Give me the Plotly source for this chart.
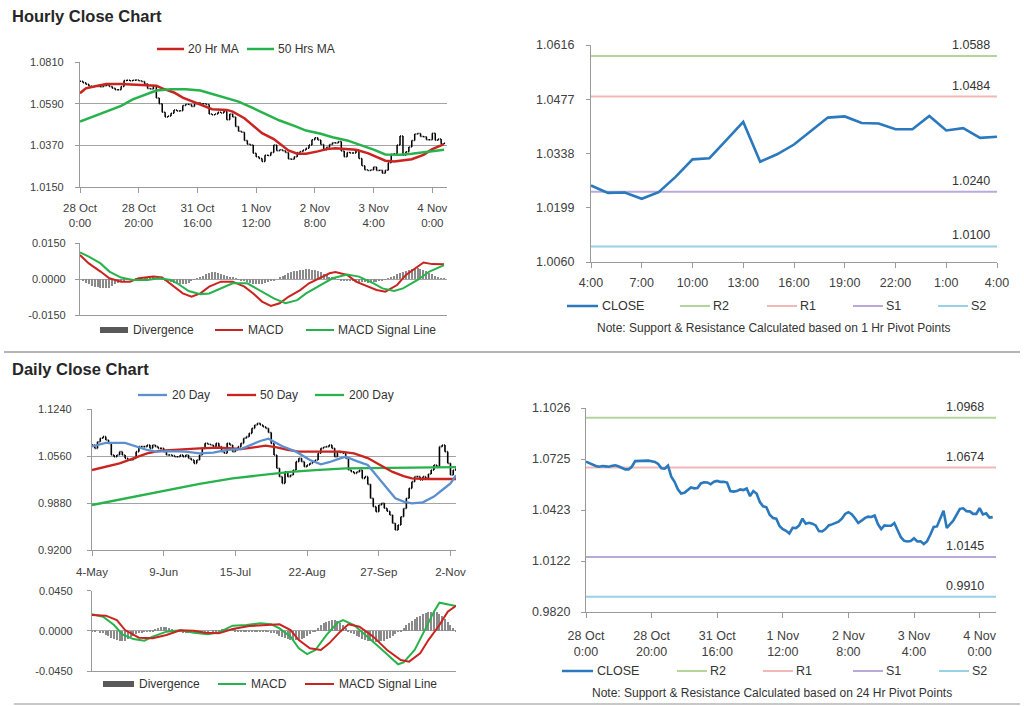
import plotly.graph_objects as go

W, H = 1024, 706
FONT = "Liberation Sans, Arial, sans-serif"

# ---------------- data ----------------
hourly_close = [
    1.0709, 1.0700, 1.0692, 1.0683, 1.0679, 1.0683, 1.0681, 1.0679, 1.0684, 1.0687,
    1.0680, 1.0672, 1.0663, 1.0663, 1.0680, 1.0712, 1.0713, 1.0711, 1.0713, 1.0715,
    1.0711, 1.0707, 1.0695, 1.0670, 1.0667, 1.0685, 1.0620, 1.0590, 1.0545, 1.0520,
    1.0525, 1.0540, 1.0556, 1.0551, 1.0553, 1.0580, 1.0587, 1.0586, 1.0575, 1.0590,
    1.0595, 1.0589, 1.0590, 1.0585, 1.0535, 1.0532, 1.0535, 1.0545, 1.0541, 1.0550,
    1.0505, 1.0535, 1.0520, 1.0470, 1.0445, 1.0439, 1.0395, 1.0376, 1.0372, 1.0328,
    1.0310, 1.0300, 1.0284, 1.0318, 1.0316, 1.0332, 1.0372, 1.0342, 1.0347, 1.0342,
    1.0332, 1.0298, 1.0296, 1.0310, 1.0332, 1.0338, 1.0345, 1.0354, 1.0372, 1.0400,
    1.0410, 1.0398, 1.0374, 1.0346, 1.0360, 1.0375, 1.0384, 1.0382, 1.0390, 1.0340,
    1.0310, 1.0332, 1.0330, 1.0330, 1.0346, 1.0300, 1.0262, 1.0241, 1.0237, 1.0240,
    1.0256, 1.0237, 1.0238, 1.0222, 1.0239, 1.0278, 1.0323, 1.0326, 1.0372, 1.0419,
    1.0317, 1.0336, 1.0361, 1.0396, 1.0430, 1.0433, 1.0416, 1.0415, 1.0400, 1.0400,
    1.0434, 1.0397, 1.0403, 1.0378, 1.0381]
hourly_tick_idx = [0, 20, 40, 60, 80, 100, 120]
hourly_tick_text = ["28 Oct<br>0:00", "28 Oct<br>20:00", "31 Oct<br>16:00", "1 Nov<br>12:00",
                    "2 Nov<br>8:00", "3 Nov<br>4:00", "4 Nov<br>0:00"]

ma20_hr_idx = [0, 2, 6, 9, 14, 18, 23, 26, 28, 32, 35, 39, 42, 45, 50, 52, 56, 59, 62, 66, 69, 71, 74,
               77, 81, 84, 87, 91, 94, 98, 101, 104, 107, 110, 113, 117, 120, 124]
ma20_hr = [1.0645, 1.0671, 1.0685, 1.0694, 1.0694, 1.0692, 1.0689, 1.0684, 1.0671, 1.0649, 1.0622,
           1.0598, 1.0578, 1.0561, 1.0557, 1.0548, 1.0513, 1.0473, 1.0434, 1.0403, 1.0368, 1.0343,
           1.0326, 1.0326, 1.0338, 1.0350, 1.0355, 1.0352, 1.0347, 1.0329, 1.0308, 1.0289, 1.0285,
           1.0289, 1.0297, 1.0320, 1.0350, 1.0376]
ma50_hr_idx = [0, 4, 9, 14, 18, 23, 26, 31, 36, 41, 45, 50, 54, 59, 64, 68, 73, 77, 82, 86, 91, 95,
               100, 104, 109, 113, 118, 124]
ma50_hr = [1.0496, 1.0519, 1.0548, 1.0578, 1.0613, 1.0641, 1.0659, 1.0666, 1.0666, 1.0659, 1.0641,
           1.0622, 1.0601, 1.0566, 1.0531, 1.0501, 1.0473, 1.0448, 1.0431, 1.0413, 1.0396, 1.0376,
           1.0347, 1.0322, 1.0320, 1.0326, 1.0334, 1.0347]

macd_hr_idx = [0, 3, 7, 10, 14, 17, 20, 25, 28, 32, 35, 38, 41, 44, 48, 52, 56, 59, 62, 65, 68, 71,
               75, 78, 82, 85, 87, 91, 94, 98, 101, 104, 108, 111, 115, 117, 120, 124]
macd_hr = [0.0100, 0.0065, 0.0031, 0.0003, -0.0011, -0.0011, 0.0003, 0.0010, 0.0006, -0.0032,
           -0.0060, -0.0074, -0.0060, -0.0032, -0.0011, -0.0011, -0.0032, -0.0060, -0.0094, -0.0112,
           -0.0101, -0.0074, -0.0046, -0.0018, 0.0006, 0.0024, 0.0029, 0.0017, -0.0011, -0.0032,
           -0.0046, -0.0053, -0.0025, 0.0017, 0.0051, 0.0069, 0.0062, 0.0061]
signal_hr_idx = [0, 3, 7, 10, 14, 18, 23, 27, 31, 34, 37, 41, 44, 48, 52, 57, 61, 66, 70, 74, 77, 82,
                 86, 91, 95, 100, 103, 107, 110, 115, 119, 124]
signal_hr = [0.0111, 0.0093, 0.0065, 0.0031, 0.0006, -0.0004, -0.0004, 0.0003, -0.0004, -0.0025,
             -0.0050, -0.0063, -0.0060, -0.0039, -0.0018, -0.0018, -0.0046, -0.0081, -0.0101, -0.0088,
             -0.0060, -0.0025, 0.0003, 0.0019, 0.0010, -0.0018, -0.0039, -0.0050, -0.0039, -0.0004,
             0.0031, 0.0058]
divergence_hr = [
    0.0000, -0.0008, -0.0015, -0.0022, -0.0028, -0.0032, -0.0035, -0.0037, -0.0038, -0.0038,
    -0.0036, -0.0030, -0.0022,
    -0.0015, -0.0010, -0.0006, -0.0004, -0.0002, 0.0000, 0.0002,
    0.0004, 0.0005, 0.0006, 0.0007, 0.0007, 0.0006, 0.0004, 0.0002, -0.0002, -0.0006,
    -0.0010, -0.0014, -0.0018, -0.0020, -0.0022, -0.0022, -0.0020, -0.0016, -0.0010,
    -0.0004, 0.0002, 0.0008,
    0.0014, 0.0020, 0.0025, 0.0028, 0.0028, 0.0026, 0.0022, 0.0017, 0.0012,
    0.0008, 0.0005, 0.0002, -0.0002, -0.0006, -0.0010,
    -0.0014, -0.0018, -0.0020, -0.0022, -0.0022, -0.0020, -0.0018, -0.0014, -0.0010, -0.0005,
    0.0000, 0.0006, 0.0012, 0.0018, 0.0023, 0.0028, 0.0032, 0.0035, 0.0037, 0.0039, 0.0040,
    0.0040, 0.0039, 0.0037, 0.0033, 0.0028, 0.0022, 0.0016, 0.0010, 0.0005, 0.0001,
    -0.0003, -0.0006, -0.0008, -0.0009, -0.0010, -0.0010, -0.0011, -0.0012, -0.0013, -0.0014,
    -0.0015, -0.0015, -0.0014, -0.0012, -0.0009, -0.0005, -0.0001, 0.0003,
    0.0008, 0.0014, 0.0020, 0.0026, 0.0031, 0.0035, 0.0039, 0.0042, 0.0044, 0.0044,
    0.0042, 0.0038, 0.0033, 0.0027, 0.0020, 0.0013, 0.0008, 0.0004, 0.0002]

pivot_hr_close = hourly_close[100:]
pivot_hr_tick_idx = [0, 3, 6, 9, 12, 15, 18, 21, 24]
pivot_hr_tick_text = ["4:00", "7:00", "10:00", "13:00", "16:00", "19:00", "22:00", "1:00", "4:00"]
pivot_hr_yticks = [1.0060, 1.0199, 1.0338, 1.0477, 1.0616]

level_names = ["R2", "R1", "S1", "S2"]
level_colors = ["#b3d59a", "#f2b8b8", "#b9a9d8", "#98d0e6"]
pivot_hr_levels = [1.0588, 1.0484, 1.0240, 1.0100]
pivot_day_levels = [1.0968, 1.0674, 1.0145, 0.9910]
pivot_day_yticks = [0.9820, 1.01215, 1.0423, 1.07245, 1.1026]
pivot_day_ytext = ["0.9820", "1.0122", "1.0423", "1.0725", "1.1026"]

daily_close = [
    1.0719, 1.0671, 1.0767, 1.0816, 1.0840, 1.0792, 1.0743, 1.0574, 1.0550, 1.0574,
    1.0623, 1.0574, 1.0526, 1.0502, 1.0502, 1.0526, 1.0623, 1.0695, 1.0695, 1.0695,
    1.0719, 1.0671, 1.0719, 1.0695, 1.0671, 1.0671, 1.0623, 1.0574, 1.0574, 1.0565,
    1.0550, 1.0550, 1.0574, 1.0550, 1.0574, 1.0526, 1.0502, 1.0454, 1.0502, 1.0574,
    1.0671, 1.0743, 1.0729, 1.0719, 1.0695, 1.0743, 1.0695, 1.0623, 1.0599, 1.0743,
    1.0719, 1.0623, 1.0647, 1.0695, 1.0743, 1.0816, 1.0840, 1.0888, 1.0960, 1.1009,
    1.1033, 1.1009, 1.0984, 1.0960, 1.0900, 1.0740, 1.0574, 1.0382, 1.0261, 1.0164,
    1.0333, 1.0261, 1.0285, 1.0357, 1.0478, 1.0526, 1.0478, 1.0406, 1.0430, 1.0454,
    1.0478, 1.0502, 1.0599, 1.0671, 1.0690, 1.0695, 1.0719, 1.0671, 1.0550, 1.0623,
    1.0610, 1.0599, 1.0526, 1.0357, 1.0333, 1.0309, 1.0330, 1.0357, 1.0237, 1.0261,
    1.0150, 0.9948, 0.9827, 0.9755, 0.9851, 0.9875, 0.9803, 0.9760, 0.9707, 0.9586,
    0.9489, 0.9562, 0.9682, 0.9800, 0.9948, 1.0092, 1.0189, 1.0261, 1.0261, 1.0213,
    1.0261, 1.0237, 1.0300, 1.0357, 1.0430, 1.0406, 1.0695, 1.0719, 1.0623, 1.0454,
    1.0285, 1.0357, 1.0382]
daily_tick_idx = [0, 26, 52, 78, 104, 130]
daily_tick_text = ["4-May", "9-Jun", "15-Jul", "22-Aug", "27-Sep", "2-Nov"]

ma20_d_idx = [0, 5, 12, 16, 20, 23, 28, 34, 39, 44, 49, 54, 57, 61, 64, 69, 74, 79, 83, 86, 90, 92,
              96, 100, 103, 107, 110, 113, 116, 120, 124, 127, 130, 132]
ma20_d = [1.0700, 1.0750, 1.0750, 1.0695, 1.0647, 1.0623, 1.0630, 1.0623, 1.0599, 1.0608, 1.0650,
          1.0660, 1.0710, 1.0777, 1.0810, 1.0700, 1.0623, 1.0502, 1.0440, 1.0470, 1.0526, 1.0550,
          1.0485, 1.0430, 1.0285, 1.0092, 0.9948, 0.9900, 0.9875, 0.9890, 0.9972, 1.0068, 1.0164,
          1.0280]
ma50_d_idx = [0, 5, 10, 15, 20, 25, 32, 39, 46, 54, 58, 63, 67, 71, 75, 83, 90, 95, 100, 104, 109,
              113, 116, 121, 127, 132]
ma50_d = [1.0357, 1.0406, 1.0454, 1.0526, 1.0599, 1.0637, 1.0656, 1.0671, 1.0681, 1.0661, 1.0681,
          1.0710, 1.0685, 1.0647, 1.0623, 1.0623, 1.0623, 1.0599, 1.0530, 1.0440, 1.0330, 1.0270,
          1.0235, 1.0227, 1.0227, 1.0227]
ma200_d_idx = [0, 15, 27, 39, 51, 63, 72, 81, 92, 100, 112, 124, 132]
ma200_d = [0.9851, 0.9972, 1.0068, 1.0155, 1.0237, 1.0290, 1.0330, 1.0355, 1.0382, 1.0385, 1.0390,
           1.0395, 1.0400]

macd_d_idx = [0, 4, 8, 11, 15, 19, 22, 27, 32, 37, 42, 46, 51, 56, 61, 65, 68, 72, 75, 78, 81, 85,
              89, 91, 95, 100, 104, 108, 111, 113, 117, 121, 124, 126, 129, 132]
macd_d = [0.0185, 0.0159, 0.0065, -0.0039, -0.0092, -0.0110, -0.0065, -0.0009, 0.0006, -0.0021,
          -0.0039, -0.0017, 0.0058, 0.0065, 0.0084, 0.0073, 0.0028, -0.0065, -0.0196, -0.0260,
          -0.0215, -0.0047, 0.0091, 0.0121, 0.0065, -0.0065, -0.0177, -0.0289, -0.0375, -0.0353,
          -0.0215, 0.0028, 0.0215, 0.0316, 0.0297, 0.0278]
signal_d_idx = [0, 5, 9, 12, 17, 22, 27, 32, 37, 41, 46, 51, 57, 63, 68, 72, 75, 79, 83, 86, 90, 93,
                97, 102, 107, 112, 115, 119, 122, 126, 129, 132]
signal_d = [0.0177, 0.0170, 0.0121, 0.0009, -0.0077, -0.0084, -0.0047, 0.0006, 0.0002, -0.0021,
            -0.0028, 0.0021, 0.0054, 0.0065, 0.0073, 0.0009, -0.0103, -0.0196, -0.0215, -0.0140,
            -0.0009, 0.0073, 0.0047, -0.0065, -0.0215, -0.0327, -0.0345, -0.0252, -0.0103, 0.0065,
            0.0215, 0.0282]
divergence_d = [
    0.0005, 0.0003, 0.0000, -0.0010,
    -0.0025, -0.0040, -0.0058, -0.0075, -0.0090, -0.0102, -0.0110, -0.0112, -0.0105, -0.0090, -0.0070,
    -0.0050, -0.0035, -0.0025, -0.0015, -0.0008, -0.0002, 0.0005,
    0.0015, 0.0025, 0.0035, 0.0042, 0.0045, 0.0042, 0.0032, 0.0020, 0.0008,
    0.0000, -0.0006, -0.0010, -0.0015, -0.0018, -0.0020, -0.0020, -0.0018, -0.0015, -0.0012,
    -0.0008, -0.0004, 0.0000, 0.0005, 0.0010,
    0.0015, 0.0020, 0.0025, 0.0028, 0.0028, 0.0025, 0.0020, 0.0015, 0.0012, 0.0010,
    0.0010, 0.0012, 0.0014, 0.0015, 0.0015, 0.0012, 0.0008, 0.0003, -0.0002, -0.0010,
    -0.0020, -0.0035, -0.0050, -0.0065, -0.0080, -0.0092, -0.0100, -0.0104, -0.0103, -0.0098,
    -0.0088, -0.0072, -0.0052, -0.0030, -0.0008, 0.0015,
    0.0040, 0.0065, 0.0088, 0.0105, 0.0118, 0.0125, 0.0125, 0.0115, 0.0095, 0.0070, 0.0040,
    0.0010, -0.0015, -0.0035, -0.0055, -0.0070, -0.0085, -0.0097, -0.0107, -0.0115, -0.0120,
    -0.0122, -0.0120, -0.0115, -0.0105, -0.0090, -0.0072, -0.0052, -0.0030, -0.0008, 0.0015,
    0.0040, 0.0065, 0.0090, 0.0115, 0.0138, 0.0158, 0.0175, 0.0190, 0.0202, 0.0212,
    0.0218, 0.0218, 0.0212, 0.0195, 0.0170, 0.0140,
    0.0100, 0.0065, 0.0035, 0.0015]

# ---------------- styling ----------------
RED = "#c9241f"
GREEN = "#27b24b"
BLUE20 = "#5b8fd0"
CLOSE_BLUE = "#2a78bd"
GRID = "#a3a3a3"
AX = "#9a9a9a"
TXT = "#404040"


def xd(a, b):
    return [a / W, b / W]


def yd(top, bottom):
    return [1 - bottom / H, 1 - top / H]


fig = go.Figure()

# ----- Panel A: hourly OHLC + MAs -----
h_idx = list(range(len(hourly_close)))
h_open = [hourly_close[0]] + hourly_close[:-1]
h_high = [max(o, c) for o, c in zip(h_open, hourly_close)]
h_low = [min(o, c) for o, c in zip(h_open, hourly_close)]
fig.add_trace(go.Ohlc(x=h_idx, open=h_open, high=h_high, low=h_low, close=hourly_close,
                      increasing_line_color="black", decreasing_line_color="black",
                      line_width=1.5, tickwidth=0.35, xaxis="x", yaxis="y", showlegend=False,
                      hoverinfo="skip"))
fig.add_trace(go.Scatter(x=ma20_hr_idx, y=ma20_hr, mode="lines", line=dict(color=RED, width=2.5),
                         xaxis="x", yaxis="y", showlegend=False))
fig.add_trace(go.Scatter(x=ma50_hr_idx, y=ma50_hr, mode="lines", line=dict(color=GREEN, width=2.5),
                         xaxis="x", yaxis="y", showlegend=False))

# ----- Panel B: hourly MACD -----
fig.add_trace(go.Bar(x=h_idx, y=divergence_hr, marker=dict(color="#8a8a8a", line_width=0), width=0.4,
                     xaxis="x2", yaxis="y2", showlegend=False))
fig.add_trace(go.Scatter(x=macd_hr_idx, y=macd_hr, mode="lines", line=dict(color=RED, width=2),
                         xaxis="x2", yaxis="y2", showlegend=False))
fig.add_trace(go.Scatter(x=signal_hr_idx, y=signal_hr, mode="lines", line=dict(color=GREEN, width=2),
                         xaxis="x2", yaxis="y2", showlegend=False))

# ----- Panel C: hourly pivots -----
p_idx = list(range(len(pivot_hr_close)))
for lvl, col in zip(pivot_hr_levels, level_colors):
    fig.add_trace(go.Scatter(x=[p_idx[0], p_idx[-1]], y=[lvl, lvl], mode="lines",
                             line=dict(color=col, width=2), xaxis="x3", yaxis="y3", showlegend=False))
fig.add_trace(go.Scatter(x=p_idx, y=pivot_hr_close, mode="lines", line=dict(color=CLOSE_BLUE, width=2.6),
                         xaxis="x3", yaxis="y3", showlegend=False))

# ----- Panel D: daily OHLC + MAs -----
d_idx = list(range(len(daily_close)))
d_open = [daily_close[0]] + daily_close[:-1]
d_high = [max(o, c) for o, c in zip(d_open, daily_close)]
d_low = [min(o, c) for o, c in zip(d_open, daily_close)]
fig.add_trace(go.Ohlc(x=d_idx, open=d_open, high=d_high, low=d_low, close=daily_close,
                      increasing_line_color="black", decreasing_line_color="black",
                      line_width=1.6, tickwidth=0.35, xaxis="x4", yaxis="y4", showlegend=False,
                      hoverinfo="skip"))
fig.add_trace(go.Scatter(x=ma200_d_idx, y=ma200_d, mode="lines", line=dict(color=GREEN, width=2.3),
                         xaxis="x4", yaxis="y4", showlegend=False))
fig.add_trace(go.Scatter(x=ma50_d_idx, y=ma50_d, mode="lines", line=dict(color=RED, width=2.3),
                         xaxis="x4", yaxis="y4", showlegend=False))
fig.add_trace(go.Scatter(x=ma20_d_idx, y=ma20_d, mode="lines", line=dict(color=BLUE20, width=2.3),
                         xaxis="x4", yaxis="y4", showlegend=False))

# ----- Panel E: daily MACD -----
fig.add_trace(go.Bar(x=d_idx, y=divergence_d, marker=dict(color="#8a8a8a", line_width=0), width=0.4,
                     xaxis="x5", yaxis="y5", showlegend=False))
fig.add_trace(go.Scatter(x=macd_d_idx, y=macd_d, mode="lines", line=dict(color=GREEN, width=2),
                         xaxis="x5", yaxis="y5", showlegend=False))
fig.add_trace(go.Scatter(x=signal_d_idx, y=signal_d, mode="lines", line=dict(color=RED, width=2),
                         xaxis="x5", yaxis="y5", showlegend=False))

# ----- Panel F: 24h pivots -----
for lvl, col in zip(pivot_day_levels, level_colors):
    fig.add_trace(go.Scatter(x=[0, 125], y=[lvl, lvl], mode="lines",
                             line=dict(color=col, width=2), xaxis="x6", yaxis="y6", showlegend=False))
fig.add_trace(go.Scatter(x=h_idx, y=hourly_close, mode="lines", line=dict(color=CLOSE_BLUE, width=2.6),
                         xaxis="x6", yaxis="y6", showlegend=False))

# ---------------- axes ----------------
def xaxis(dom, rng, anchor, tickvals=None, ticktext=None, size=11.5, standoff=4, showlabels=True):
    return dict(domain=dom, range=rng, anchor=anchor, showgrid=False, zeroline=False,
                showline=True, linecolor=AX, linewidth=1.3, ticks="outside" if showlabels else "",
                ticklen=5, tickcolor=AX, tickvals=tickvals, ticktext=ticktext,
                showticklabels=showlabels, tickfont=dict(family=FONT, size=size, color=TXT),
                ticklabelstandoff=standoff, rangeslider=dict(visible=False), fixedrange=True,
                tickangle=0, automargin=False)


def yaxis(dom, rng, anchor, tickvals, ticktext, grid=True, size=11, standoff=6):
    return dict(domain=dom, range=rng, anchor=anchor, showgrid=grid, gridcolor=GRID, gridwidth=1.3,
                zeroline=False, showline=True, linecolor=AX, linewidth=1.3, ticks="outside",
                ticklen=4, tickcolor=AX, tickvals=tickvals, ticktext=ticktext,
                tickfont=dict(family=FONT, size=size, color=TXT), ticklabelstandoff=standoff,
                fixedrange=True, automargin=False)


fig.update_layout(
    xaxis=xaxis(xd(80, 447), [0, 125], "y", hourly_tick_idx, hourly_tick_text, standoff=5),
    yaxis=yaxis(yd(62, 187), [1.0150, 1.0810], "x", [1.0150, 1.0370, 1.0590, 1.0810],
                ["1.0150", "1.0370", "1.0590", "1.0810"], standoff=9),
    xaxis2=xaxis(xd(80, 447), [0, 125], "y2", showlabels=False),
    yaxis2=yaxis(yd(243, 315), [-0.015, 0.015], "x2", [-0.015, 0.0, 0.015],
                 ["-0.0150", "0.0000", "0.0150"], standoff=7),
    xaxis3=xaxis(xd(591, 997), [0, 24], "y3", pivot_hr_tick_idx, pivot_hr_tick_text, size=12.5,
                 standoff=4),
    yaxis3=yaxis(yd(45, 262), [1.0060, 1.0616], "x3", pivot_hr_yticks,
                 ["%.4f" % v for v in pivot_hr_yticks], grid=False, size=12.5, standoff=9),
    xaxis4=xaxis(xd(92, 456), [0, 132], "y4", daily_tick_idx, daily_tick_text, standoff=6),
    yaxis4=yaxis(yd(409, 550), [0.9200, 1.1240], "x4", [0.9200, 0.9880, 1.0560, 1.1240],
                 ["0.9200", "0.9880", "1.0560", "1.1240"], standoff=13),
    xaxis5=xaxis(xd(92, 456), [0, 132], "y5", showlabels=False),
    yaxis5=yaxis(yd(590.7, 671), [-0.045, 0.045], "x5", [-0.045, 0.0, 0.045],
                 ["-0.0450", "0.0000", "0.0450"], standoff=12),
    xaxis6=xaxis(xd(586, 996), [0, 125], "y6", hourly_tick_idx, hourly_tick_text, size=12.5,
                 standoff=7),
    yaxis6=yaxis(yd(408, 612), [0.9820, 1.1026], "x6", pivot_day_yticks, pivot_day_ytext, grid=False,
                 size=12.5, standoff=8),
)

# ---------------- legends, titles, notes ----------------
shapes = []
annotations = []


def px(x):
    return x / W


def py(y):
    return 1 - y / H


def seg(x0, x1, y, color, width=2.3):
    shapes.append(dict(type="line", xref="paper", yref="paper", x0=px(x0), x1=px(x1), y0=py(y), y1=py(y),
                       line=dict(color=color, width=width)))


def bar_key(x0, x1, y, color="#595959"):
    shapes.append(dict(type="rect", xref="paper", yref="paper", x0=px(x0), x1=px(x1), y0=py(y + 3),
                       y1=py(y - 3), line=dict(width=0), fillcolor=color))


def txt(x, y, s, size=12, anchor="left", bold=False, color="#333333"):
    if bold:
        s = "<b>" + s + "</b>"
    annotations.append(dict(xref="paper", yref="paper", x=px(x), y=py(y), text=s, showarrow=False,
                            xanchor=anchor, yanchor="middle", font=dict(family=FONT, size=size, color=color)))


# titles
txt(10, 16, "Hourly Close Chart", size=16.5, bold=True, color="#262626")
txt(10, 369, "Daily Close Chart", size=16.5, bold=True, color="#262626")

# panel A legend
seg(157, 184, 49, RED, 2.5)
txt(186, 49, "20 Hr MA", size=12)
seg(247, 274, 49, GREEN, 2.5)
txt(276, 49, "50 Hrs MA", size=12)

# panel B legend
bar_key(100, 128, 330)
txt(131, 330, "Divergence", size=12)
seg(215, 243, 330, RED, 2)
txt(246, 330, "MACD", size=12)
seg(306, 334, 330, GREEN, 2)
txt(336, 330, "MACD Signal Line", size=12)

# panel C legend + note
seg(567, 598, 306, CLOSE_BLUE, 2.5)
txt(600, 306, "CLOSE", size=12.5)
lx_c = [680, 767, 853, 938]
for x0, name, col in zip(lx_c, level_names, level_colors):
    seg(x0, x0 + 30, 306, col, 2)
    txt(x0 + 31, 306, name, size=12.5)
txt(774, 328, "Note: Support &amp; Resistance Calculated based on 1 Hr Pivot Points", size=12,
    anchor="center")

# pivot level value labels
for lvl in pivot_hr_levels:
    annotations.append(dict(xref="x3", yref="y3", x=24, y=lvl, text="%.4f" % lvl, showarrow=False,
                            xanchor="right", yanchor="bottom", xshift=-5, yshift=2,
                            font=dict(family=FONT, size=12.5, color="#333333")))
for lvl in pivot_day_levels:
    annotations.append(dict(xref="x6", yref="y6", x=125, y=lvl, text="%.4f" % lvl, showarrow=False,
                            xanchor="right", yanchor="bottom", xshift=-10, yshift=2,
                            font=dict(family=FONT, size=12.5, color="#333333")))

# panel D legend
seg(138, 167, 395, BLUE20, 2.3)
txt(170, 395, "20 Day", size=12)
seg(227, 256, 395, RED, 2.3)
txt(258, 395, "50 Day", size=12)
seg(315, 344, 395, GREEN, 2.3)
txt(347, 395, "200 Day", size=12)

# panel E legend
bar_key(103, 134, 684)
txt(137, 684, "Divergence", size=12)
seg(218, 246, 684, GREEN, 2)
txt(249, 684, "MACD", size=12)
seg(305, 334, 684, RED, 2)
txt(337, 684, "MACD Signal Line", size=12)

# panel F legend + note
seg(562, 593, 671, CLOSE_BLUE, 2.5)
txt(595, 671, "CLOSE", size=12.5)
lx_f = [677, 763, 853, 939]
for x0, name, col in zip(lx_f, level_names, level_colors):
    seg(x0, x0 + 30, 671, col, 2)
    txt(x0 + 31, 671, name, size=12.5)
txt(772, 693, "Note: Support &amp; Resistance Calculated based on 24 Hr Pivot Points", size=12,
    anchor="center")

# separators
shapes.append(dict(type="line", xref="paper", yref="paper", x0=px(4), x1=px(1020), y0=py(352), y1=py(352),
                   line=dict(color="#b5b5b5", width=2)))
shapes.append(dict(type="line", xref="paper", yref="paper", x0=px(14), x1=px(1020), y0=py(704), y1=py(704),
                   line=dict(color="#c8c8c8", width=2)))

fig.update_layout(
    width=W, height=H, margin=dict(l=0, r=0, t=0, b=0, autoexpand=False),
    paper_bgcolor="white", plot_bgcolor="white",
    showlegend=False, hovermode=False, bargap=0,
    shapes=shapes, annotations=annotations,
    font=dict(family=FONT, color=TXT),
)

fig.write_html("out.html", config={"displayModeBar": False},
               post_script="document.body.style.margin='0';document.body.style.overflow='hidden';")
